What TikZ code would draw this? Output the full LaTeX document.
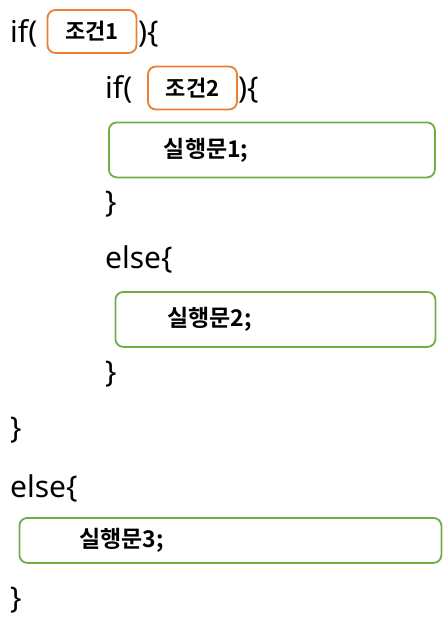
\documentclass[tikz,border=0pt]{standalone}
\usepackage{fontspec}
\setmainfont{Noto Sans}
\newfontfamily\korbold{Noto Sans CJK KR Bold}
\definecolor{condorange}{HTML}{ED7D31}
\definecolor{stmtgreen}{HTML}{70AD47}
\begin{document}
\begin{tikzpicture}[x=1pt,y=-1pt,
  code/.style={anchor=base west,inner sep=0pt,font=\fontsize{30}{32}\selectfont},
  condbox/.style={draw=condorange,line width=1.8pt,rounded corners=8pt,minimum width=89pt,minimum height=43pt,inner sep=0pt,font=\korbold\fontsize{22}{24}\selectfont},
  stmtbox/.style={draw=stmtgreen,line width=1.8pt,rounded corners=8pt,anchor=north west,minimum height=55pt,align=left,inner ysep=0pt,font=\korbold\fontsize{23}{25}\selectfont}]
\useasboundingbox (0,0) rectangle (445,625);
% line 1
\node[code] (if1) at (10,42) {if(};
\node[condbox] (c1) at (92,31.5) {조건1};
\node[code] (cl1) at (138,42) {)\{};
% line 2
\node[code] (if2) at (105,98) {if(};
\node[condbox] (c2) at (192.5,88) {조건2};
\node[code] (cl2) at (238,98) {)\{};
% stmt 1
\node[stmtbox,text width=216pt,inner xsep=55pt] (s1) at (108,121.5) {실행문1;};
\node[code] (b1) at (105,212) {\}};
\node[code] (e1) at (105,268) {else\{};
\node[stmtbox,text width=216pt,inner xsep=52pt] (s2) at (114.5,291) {실행문2;};
\node[code] (b2) at (105,382) {\}};
\node[code] (b3) at (10,438) {\}};
\node[code] (e2) at (10,497) {else\{};
\node[stmtbox,text width=302pt,inner xsep=60pt,minimum height=45pt] (s3) at (18.5,517) {실행문3;};
\node[code] (b4) at (10,608) {\}};
\end{tikzpicture}
\end{document}
